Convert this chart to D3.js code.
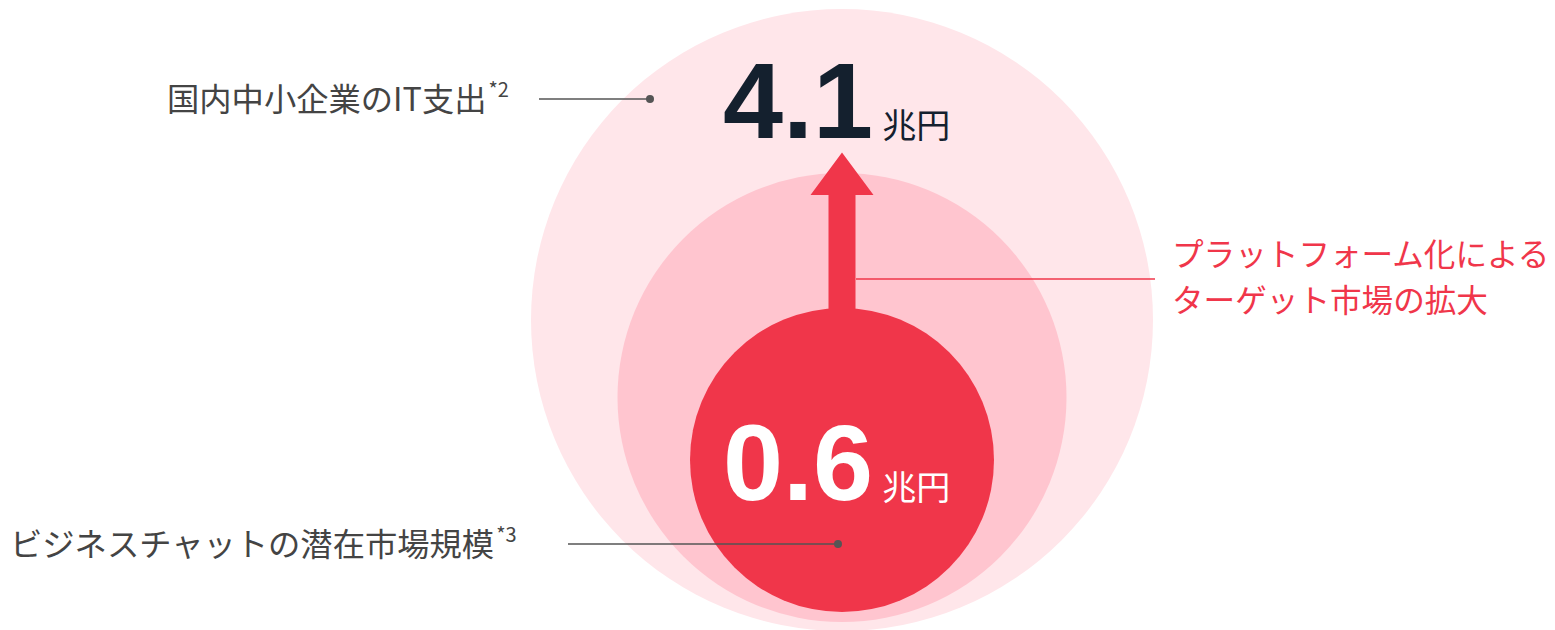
<!DOCTYPE html>
<html><head><meta charset="utf-8">
<script src="https://cdn.jsdelivr.net/npm/d3@7"></script>
<style>html,body{margin:0;padding:0;background:#fff;overflow:hidden}</style>
</head><body>
<svg id="chart" width="1555" height="630"></svg>
<script>
// data
const markets = ["国内中小企業のIT支出", "ターゲット市場", "ビジネスチャットの潜在市場規模"];
const values = [4.1, null, 0.6];
const unit = "兆円";
const notes = ["*2", null, "*3"];
const growthLabel = ["プラットフォーム化による", "ターゲット市場の拡大"];

const svg = d3.select("#chart");
const cx = 842;
// layout
const layout = [
  {cy: 320, r: 311, fill: "#ffe6ea"},
  {cy: 397.5, r: 224.5, fill: "#ffc5cf"},
  {cy: 460, r: 152, fill: "#f0364a"}
];
const red = "#f0364a", navy = "#14202e", gray = "#444";
const jp = "'Noto Sans CJK JP','Noto Sans',sans-serif";
const num = "'Liberation Sans',Arial,sans-serif";

svg.selectAll("circle.m").data(markets).join("circle")
  .attr("class","m")
  .attr("cx", cx).attr("cy",(d,i)=>layout[i].cy).attr("r",(d,i)=>layout[i].r)
  .attr("fill",(d,i)=>layout[i].fill);

// arrow
const ap = d3.path();
ap.moveTo(cx-13.5, 310); ap.lineTo(cx-13.5, 195); ap.lineTo(cx-31.5,195);
ap.lineTo(cx, 152.5); ap.lineTo(cx+31.5,195); ap.lineTo(cx+13.5,195); ap.lineTo(cx+13.5,310); ap.closePath();
svg.append("path").attr("d", ap.toString()).attr("fill", red);

// growth label
svg.append("line").attr("x1", cx+14).attr("x2",1155).attr("y1",279).attr("y2",279)
  .attr("stroke", red).attr("stroke-width",1.6);
svg.append("text").attr("font-family",jp).attr("font-size",31.6).attr("fill",red)
  .selectAll("tspan").data(growthLabel).join("tspan")
  .attr("x",1172).attr("y",(d,i)=>266+i*46).text(d=>d);

// value labels
const valPos = [{y:138, color:navy}, null, {y:500, color:"#fff"}];
values.forEach((v,i)=>{
  if(v===null) return;
  const t = svg.append("text").attr("x",723).attr("y",valPos[i].y).attr("fill",valPos[i].color);
  t.append("tspan").attr("font-family",num).attr("font-weight",700).attr("font-size",108)
    .attr("letter-spacing",0).text(d3.format(".1f")(v));
  t.append("tspan").attr("font-family",jp).attr("font-size",34).attr("dx",9).text(unit);
});

// callouts
const callouts = [
  {i:0, tx:167, ty:111, lx1:539, lx2:650, ly:99},
  {i:2, tx:10, ty:556, lx1:568, lx2:838, ly:544}
];
callouts.forEach(c=>{
  svg.append("line").attr("x1",c.lx1).attr("x2",c.lx2).attr("y1",c.ly).attr("y2",c.ly)
    .attr("stroke","#555").attr("stroke-width",1.6);
  svg.append("circle").attr("cx",c.lx2).attr("cy",c.ly).attr("r",4).attr("fill","#555");
  const t = svg.append("text").attr("x",c.tx).attr("y",c.ty).attr("font-family",jp)
    .attr("font-size",32.3).attr("fill",gray);
  t.append("tspan").text(markets[c.i]);
  t.append("tspan").attr("font-size",20).attr("dy",-14).attr("dx",2).text(notes[c.i]);
});
</script>
</body></html>
